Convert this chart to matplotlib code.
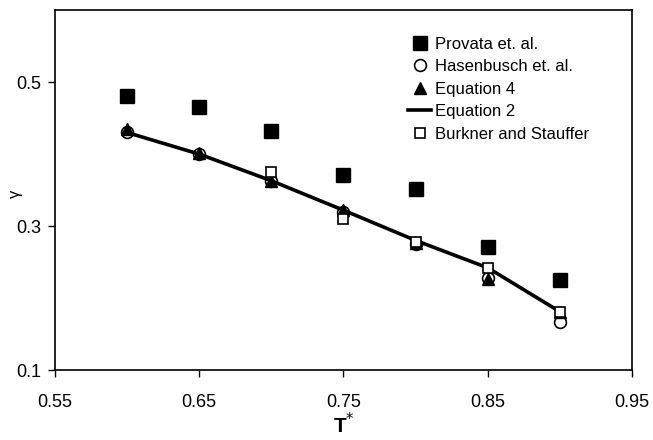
import matplotlib.pyplot as plt
import numpy as np

plt.rcParams['font.family'] = ['Liberation Sans', 'DejaVu Sans']

T = [0.60, 0.65, 0.70, 0.75, 0.80, 0.85, 0.90]
provata = [0.481, 0.465, 0.432, 0.371, 0.351, 0.271, 0.225]
hasenbusch = [0.431, 0.400, 0.362, 0.320, 0.275, 0.228, 0.167]
eq4 = [0.435, 0.401, 0.363, 0.323, 0.276, 0.227, 0.180]
eq2 = [0.430, 0.400, 0.363, 0.322, 0.280, 0.242, 0.181]
T_burkner = [0.70, 0.75, 0.80, 0.85, 0.90]
burkner = [0.375, 0.310, 0.278, 0.242, 0.180]

fig = plt.figure(figsize=(6.53, 4.4), dpi=100)
ax = fig.add_axes([0.084, 0.159, 0.884, 0.818])

ax.plot(T, provata, 's', color='black', ms=9.5, label='Provata et. al.', zorder=3)
ax.plot(T, hasenbusch, 'o', mfc='white', mec='black', mew=1.2, ms=8.5,
        label='Hasenbusch et. al.', zorder=3)
ax.plot(T, eq4, '^', color='black', ms=9, label='Equation 4', zorder=4)
ax.plot(T, eq2, '-', color='black', lw=2.6, label='Equation 2', zorder=5)
ax.plot(T_burkner, burkner, 's', mfc='white', mec='black', mew=1.2, ms=6.5,
        label='Burkner and Stauffer', zorder=6)

ax.set_xlim(0.55, 0.95)
ax.set_ylim(0.1, 0.6)
ax.set_xticks(np.arange(0.55, 0.96, 0.1))
ax.set_xticklabels(['0.55', '0.65', '0.75', '0.85', '0.95'])
ax.set_yticks([0.1, 0.3, 0.5])
ax.set_yticklabels(['0.1', '0.3', '0.5'])
ax.tick_params(direction='out', length=5, width=1, labelsize=13)
ax.tick_params(axis='x', pad=12)
ax.tick_params(axis='y', pad=5)
for s in ax.spines.values():
    s.set_linewidth(1.2)

ax.set_xlabel('T$^{*}$', fontsize=15, fontweight='bold', labelpad=1)
ax.set_ylabel('γ', fontsize=12)
ax.yaxis.set_label_coords(-0.055, 0.49)

ax.legend(loc='upper left', bbox_to_anchor=(0.6, 0.945), frameon=False,
          fontsize=12, numpoints=1, handlelength=1.4, handletextpad=0.25,
          labelspacing=0.45, borderaxespad=0)

fig.savefig('out.png', dpi=100)
